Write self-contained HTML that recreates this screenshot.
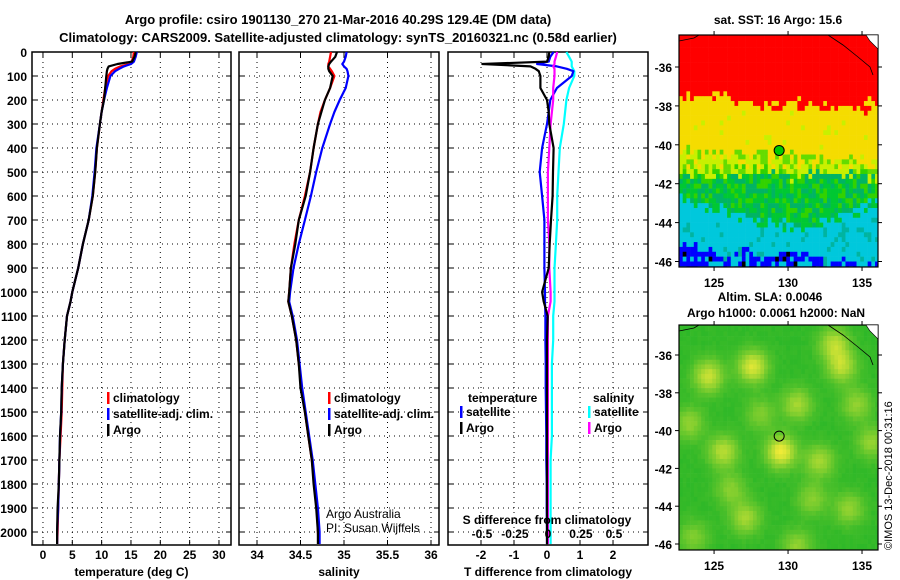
<!DOCTYPE html>
<html><head><meta charset="utf-8"><style>
html,body{margin:0;padding:0;background:#fff;}
svg{display:block;font-family:"Liberation Sans",sans-serif;}
.t{font-weight:bold;font-size:13px;fill:#000;}
.s{font-weight:bold;font-size:12px;fill:#000;}
</style></head><body>
<svg id="fig" width="900" height="580" viewBox="0 0 900 580" xmlns="http://www.w3.org/2000/svg">
<text class="t" x="338" y="24" text-anchor="middle">Argo profile: csiro 1901130_270 21-Mar-2016 40.29S 129.4E (DM data)</text>
<text class="t" x="338" y="42" text-anchor="middle">Climatology: CARS2009. Satellite-adjusted climatology: synTS_20160321.nc (0.58d earlier)</text>
<g id="plots"></g>
<text x="892" y="550" font-size="11" transform="rotate(-90 892 550)">©IMOS 13-Dec-2018 00:31:16</text>
</svg>
<script>
// ---- data ----
const depths = [0,20,40,50,60,70,80,100,150,200,250,300,400,500,600,700,800,900,1000,1040,1100,1200,1300,1400,1500,1600,1700,1800,1900,2000,2050];
const tempArgo = [15.8,15.6,15.2,12.7,11.2,11.0,10.9,10.8,10.6,10.4,10.0,9.7,9.2,8.9,8.5,7.8,6.8,6.0,5.0,4.7,4.1,3.7,3.4,3.2,3.1,2.9,2.8,2.7,2.5,2.4,2.4];
const tempClim = [15.5,15.4,15.1,14.7,13.2,12.3,11.7,11.1,10.6,10.3,10.0,9.7,9.2,8.9,8.5,7.8,6.8,6.0,5.0,4.7,4.1,3.7,3.4,3.3,3.2,3.0,2.8,2.7,2.6,2.5,2.4];
const tempSat = [16.0,15.8,15.5,15.0,13.8,13.0,12.3,11.5,10.9,10.4,10.0,9.7,9.1,8.8,8.4,7.8,6.8,6.0,5.0,4.7,4.1,3.7,3.4,3.2,3.1,2.9,2.8,2.7,2.6,2.4,2.4];
const salArgo = [34.92,34.9,34.85,34.83,34.82,34.82,34.83,34.87,34.84,34.78,34.74,34.70,34.65,34.61,34.56,34.48,34.44,34.39,34.37,34.36,34.40,34.45,34.48,34.50,34.55,34.59,34.63,34.65,34.68,34.70,34.70];
const salClim = [34.85,34.84,34.83,34.82,34.82,34.84,34.86,34.89,34.84,34.78,34.73,34.70,34.65,34.61,34.55,34.48,34.43,34.39,34.37,34.36,34.40,34.45,34.48,34.51,34.55,34.59,34.63,34.66,34.69,34.70,34.71];
const salSat = [35.03,35.02,35.0,34.98,35.0,35.03,35.04,35.05,35.02,34.95,34.89,34.84,34.75,34.68,34.62,34.55,34.48,34.42,34.38,34.37,34.41,34.46,34.49,34.52,34.56,34.60,34.64,34.67,34.70,34.72,34.72];
const dTArgo = [0.07,0.05,0.0,-1.96,-0.5,-0.35,-0.25,-0.2,-0.2,0.0,0.05,0.07,0.2,0.18,0.17,0.12,0.08,0.05,-0.15,-0.1,0.02,0.0,0.0,0.0,0.0,0.0,0.0,0.0,0.0,0.0,0.0];
const dTSat = [0.2,0.1,0.05,-0.3,0.3,0.6,0.8,0.75,0.3,0.1,0.05,0.0,-0.15,-0.22,-0.15,-0.08,-0.08,-0.08,-0.06,-0.06,-0.05,-0.05,-0.04,-0.04,-0.03,-0.02,-0.02,-0.01,-0.01,0.0,0.0];
const dSArgo = [0.07,0.06,0.05,0.05,0.04,0.05,0.05,0.05,0.04,0.04,0.03,0.02,0.01,0.0,0.0,0.0,0.01,0.01,0.02,0.02,0.0,0.0,0.0,0.0,0.0,0.0,0.0,0.0,0.0,0.0,0.0];
const dSSat = [0.14,0.16,0.18,0.18,0.18,0.19,0.2,0.2,0.16,0.14,0.13,0.12,0.09,0.08,0.07,0.07,0.06,0.05,0.05,0.05,0.04,0.04,0.03,0.03,0.03,0.03,0.02,0.02,0.02,0.02,0.02];
const depthTicks = [0,100,200,300,400,500,600,700,800,900,1000,1100,1200,1300,1400,1500,1600,1700,1800,1900,2000];
const tempTicks = [0,5,10,15,20,25,30];
const salTicks = [34,34.5,35,35.5,36];
const salTickLabels = ["34","34.5","35","35.5","36"];
const dTTicks = [-2,-1,0,1,2];
const dSTicks = [-0.5,-0.25,0,0.25,0.5];
const dSTickLabels = ["-0.5","-0.25","0","0.25","0.5"];
const latTicks = [-36,-38,-40,-42,-44,-46];
const lonTicks = [125,130,135];
const floatLon = 129.4, floatLat = -40.29;
const sstLonNodes = [122.5,124,125.5,127,128.5,130,131.5,133,134.5,136.2];
const redEdge   = [-37.3,-37.6,-37.1,-37.8,-38.0,-37.6,-38.0,-37.9,-38.2,-37.4];
const yelEdge   = [-40.1,-40.0,-40.2,-40.3,-40.2,-40.4,-40.5,-40.5,-40.6,-40.4];
const grnEdge   = [-41.3,-41.3,-41.4,-41.3,-41.2,-41.5,-41.3,-41.4,-41.3,-41.6];
const cyanEdge  = [-42.8,-43.0,-43.2,-43.6,-43.9,-44.2,-44.1,-43.6,-43.2,-43.0];
const blueEdge  = [-44.6,-45.0,-45.5,-45.2,-45.4,-45.1,-45.6,-45.9,-45.6,-45.7];
const slaBlobLon = [124.5,127.5,130.5,133.5,135.5,125.5,129.4,132,127,134,123.5,130.5,128,134.5,126,131.5,123.2,133];
const slaBlobLat = [-37,-36.5,-38.5,-36.5,-40.5,-41,-41,-41.5,-44.5,-44,-45.5,-46,-39,-38.5,-43,-43.5,-39.5,-35.3];
const slaBlobVal = [0.8,0.9,0.6,0.7,0.5,0.7,1.0,0.6,0.6,0.5,0.4,0.5,0.4,0.5,0.45,0.45,0.5,0.7];

const NS="http://www.w3.org/2000/svg";
const root=document.getElementById('plots');
function mk(tag,attrs,parent){const e=document.createElementNS(NS,tag);for(const k in attrs)e.setAttribute(k,attrs[k]);(parent||root).appendChild(e);return e;}

const Y0=52, PXM=0.24, PTOP=52, PBOT=545;
function yD(d){return Y0+d*PXM;}

function panel(name,x0,x1,xmin,xmax,ticks,labels,xlabel,showDepth){
  const g=mk('g',{});
  
  
  const xs=v=>x0+(v-xmin)/(xmax-xmin)*(x1-x0);
  ticks.forEach(t=>{const l=mk('line',{x1:xs(t),x2:xs(t),y1:PTOP,y2:PBOT,stroke:'#000','stroke-width':1,'stroke-dasharray':'1,4'},g);
    });
  depthTicks.forEach(d=>{const l=mk('line',{x1:x0,x2:x1,y1:yD(d),y2:yD(d),stroke:'#000','stroke-width':1,'stroke-dasharray':'1,4'},g);
    
    mk('line',{x1:x0,x2:x0+5,y1:yD(d),y2:yD(d),stroke:'#000'},g);mk('line',{x1:x1,x2:x1-5,y1:yD(d),y2:yD(d),stroke:'#000'},g);
    if(showDepth){const t=mk('text',{x:x0-5,y:yD(d)+5,'text-anchor':'end',class:'s'},g);t.textContent=d;
      }
  });
  ticks.forEach((t,i)=>{mk('line',{x1:xs(t),x2:xs(t),y1:PBOT,y2:PBOT-5,stroke:'#000'},g);mk('line',{x1:xs(t),x2:xs(t),y1:PTOP,y2:PTOP+5,stroke:'#000'},g);
    if(labels){const tx=mk('text',{x:xs(t),y:559,'text-anchor':'middle',class:'s'},g);tx.textContent=labels[i];
      }});
  const fr=mk('rect',{x:x0,y:PTOP,width:x1-x0,height:PBOT-PTOP,fill:'none',stroke:'#000','stroke-width':1.5},g);
  
  const xl=mk('text',{x:(x0+x1)/2,y:576,'text-anchor':'middle',class:'s'},g);xl.textContent=xlabel;
  
  return {g,xs};
}
function line(p,vals,color,name){
  const pts=vals.map((v,i)=>p.xs(v).toFixed(1)+','+yD(depths[i]).toFixed(1)).join(' ');
  const l=mk('polyline',{points:pts,fill:'none',stroke:color,'stroke-width':2.2,'stroke-linejoin':'round'},p.g);
  
  
}
function legend(g,x,y,items){
  items.forEach((it,i)=>{
    mk('rect',{x:x,y:y+i*16-10,width:2.5,height:12,fill:it[1]},g);
    const t=mk('text',{x:x+6,y:y+i*16,class:'s'},g);t.textContent=it[0];
    
  });
}
const p1=panel('temperature',32,231,-1.87,32.05,tempTicks,tempTicks.map(String),'temperature (deg C)',true);
line(p1,tempClim,'#ff0000','climatology-temp-line');
line(p1,tempSat,'#0000ff','satellite-temp-line');
line(p1,tempArgo,'#000000','argo-temp-line');
legend(p1.g,107,402,[['climatology','#ff0000'],['satellite-adj. clim.','#0000ff'],['Argo','#000']]);
const p2=panel('salinity',239,439,33.793,36.092,salTicks,salTickLabels,'salinity',false);
line(p2,salClim,'#ff0000','climatology-sal-line');
line(p2,salSat,'#0000ff','satellite-sal-line');
line(p2,salArgo,'#000000','argo-sal-line');
legend(p2.g,328,402,[['climatology','#ff0000'],['satellite-adj. clim.','#0000ff'],['Argo','#000']]);
const cr1=mk('text',{x:326,y:518,'font-size':12},p2.g);cr1.textContent='Argo Australia';

const cr2=mk('text',{x:326,y:532,'font-size':12},p2.g);cr2.textContent='PI: Susan Wijffels';

const p3=panel('difference',448,648,-3.0,3.06,dTTicks,dTTicks.map(String),'T difference from climatology',false);
const xsS=v=>448+(v+0.757)/1.515*200;
const pS={g:p3.g,xs:xsS};
line(pS,dSSat,'#00ffff','satellite-sal-diff-line');
line(p3,dTSat,'#0000ff','satellite-temp-diff-line');
line(pS,dSArgo,'#ff00ff','argo-sal-diff-line');
line(p3,dTArgo,'#000000','argo-temp-diff-line');
dSTicks.forEach((t,i)=>{const tx=mk('text',{x:xsS(t),y:538,'text-anchor':'middle',class:'s'},p3.g);tx.textContent=dSTickLabels[i];
  });
const sdt=mk('text',{x:547,y:524,'text-anchor':'middle',class:'s'},p3.g);sdt.textContent='S difference from climatology';

const lt1=mk('text',{x:468,y:402,class:'s'},p3.g);lt1.textContent='temperature';

const lt2=mk('text',{x:593,y:402,class:'s'},p3.g);lt2.textContent='salinity';

legend(p3.g,460,416,[['satellite','#0000ff'],['Argo','#000']]);
legend(p3.g,588,416,[['satellite','#00ffff'],['Argo','#ff00ff']]);

// ---- maps ----
const MX0=679,MX1=878,LON0=122.63,LON1=136.08;
function mapFrame(name,top,bot,y36,pxdeg){
  const g=mk('g',{});
  
  
  const lx=v=>MX0+(v-LON0)/(LON1-LON0)*(MX1-MX0);
  const ly=v=>y36+(-36-v)*pxdeg;
  return {g,lx,ly,top,bot};
}
function interp(nodes,vals,x){for(let i=0;i<nodes.length-1;i++){if(x<=nodes[i+1]){const f=(x-nodes[i])/(nodes[i+1]-nodes[i]);return vals[i]+f*(vals[i+1]-vals[i]);}}return vals[vals.length-1];}
function hash(i,j){let h=(i*374761393+j*668265263)>>>0;h=((h^(h>>>13))*1274126177)>>>0;return (h%1000)/1000;}
function drawMap(m,colorFn){
  const step=0.25;
  for(let lon=LON0;lon<LON1;lon+=step){
    for(let lat=-34.0;lat>-46.6;lat-=step){
      const i=Math.round(lon*4),j=Math.round(lat*4);
      const x=m.lx(lon),y=m.ly(lat);
      const yy=Math.max(y,m.top),hh=Math.min(m.ly(lat-step),m.bot)-yy;
      if(hh<=0)continue;
      const w=Math.min(m.lx(lon+step),MX1)-x;
      const c=mk('rect',{x:x.toFixed(2),y:yy.toFixed(2),width:(w+0.3).toFixed(2),height:(hh+0.3).toFixed(2),fill:colorFn(lon,lat,i,j)},m.g);
      
      
    }
  }
}
function mapAxes(m){
  const f=mk('rect',{x:MX0,y:m.top,width:MX1-MX0,height:m.bot-m.top,fill:'none',stroke:'#000','stroke-width':1.2},m.g);
  
  latTicks.forEach(t=>{const y=m.ly(t);mk('line',{x1:MX0-4,x2:MX0,y1:y,y2:y,stroke:'#000'},m.g);mk('line',{x1:MX1,x2:MX1+4,y1:y,y2:y,stroke:'#000'},m.g);
    const tx=mk('text',{x:MX0-7,y:y+5,'text-anchor':'end',class:'s'},m.g);tx.textContent=t;
    });
  lonTicks.forEach(t=>{const x=m.lx(t);mk('line',{x1:x,x2:x,y1:m.bot,y2:m.bot+4,stroke:'#000'},m.g);mk('line',{x1:x,x2:x,y1:m.top-4,y2:m.top,stroke:'#000'},m.g);
    const tx=mk('text',{x:x,y:m.bot+20,'text-anchor':'middle',class:'s'},m.g);tx.textContent=t;
    });
  const cl=mk('polyline',{points:`${MX0},${m.top+6} ${MX0+15},${m.top+3} ${MX0+20},${m.top}`,fill:'none',stroke:'#000','stroke-width':0.8},m.g);
  
  const cl2=mk('polyline',{points:`${MX1-50},${m.top} ${MX1-35},${m.top+10} ${MX1-20},${m.top+22} ${MX1-8},${m.top+32} ${MX1-5},${m.top+40}`,fill:'none',stroke:'#000','stroke-width':0.8},m.g);
  
  const land=mk('polygon',{points:`${MX1-12},${m.top} ${MX1},${m.top} ${MX1},${m.top+14} ${MX1-8},${m.top+6}`,fill:'#fff',stroke:'#000','stroke-width':0.6},m.g);
  
}
const m1=mapFrame('sst-map',35,267,67,19.45);
drawMap(m1,(lon,lat,i,j)=>{
  const n=hash(i,j), jit=(n-0.5)*1.1;
  const L=lat+jit*0.7;
  if(L>interp(sstLonNodes,redEdge,lon))return '#ff0000';
  if(L>interp(sstLonNodes,yelEdge,lon))return n>0.95?'#c8f000':'#f5dc00';
  if(L>interp(sstLonNodes,grnEdge,lon))return n>0.55?'#c8f000':(n>0.25?'#64dc00':'#f5dc00');
  if(L>interp(sstLonNodes,cyanEdge,lon))return n>0.6?'#00c832':(n>0.25?'#00b464':'#32d200');
  if(L>interp(sstLonNodes,blueEdge,lon))return n>0.85?'#00b4a0':'#00c8dc';
  return n>0.93?'#000000':(n>0.35?'#0000ff':'#00c8dc');
});
mapAxes(m1);
const c1=mk('circle',{cx:m1.lx(floatLon),cy:m1.ly(floatLat),r:5,fill:'#00c800',stroke:'#000'},m1.g);

const t1=mk('text',{x:778,y:24,'text-anchor':'middle',class:'s'},m1.g);t1.textContent='sat. SST: 16 Argo: 15.6';


const m2=mapFrame('sla-map',325,550,355,18.9);
drawMap(m2,(lon,lat,i,j)=>{
  let v=0;
  for(let k=0;k<slaBlobLon.length;k++){const dx=(lon-slaBlobLon[k])/1.0,dy=(lat-slaBlobLat[k])/0.85;v+=slaBlobVal[k]*Math.exp(-(dx*dx+dy*dy));}
  v=Math.min(1,v)+(hash(i,j)-0.5)*0.06;
  const r=Math.round(50+v*190),gg=Math.round(185+v*50),b=Math.round(40+v*15);
  return `rgb(${r},${gg},${b})`;
});
mapAxes(m2);
const c2=mk('circle',{cx:m2.lx(floatLon),cy:m2.ly(floatLat),r:5,fill:'none',stroke:'#000'},m2.g);

const t2=mk('text',{x:770,y:301,'text-anchor':'middle',class:'s'},m2.g);t2.textContent='Altim. SLA: 0.0046';

const t3=mk('text',{x:776,y:317,'text-anchor':'middle',class:'s'},m2.g);t3.textContent='Argo h1000: 0.0061 h2000: NaN';

</script>
</body></html>
